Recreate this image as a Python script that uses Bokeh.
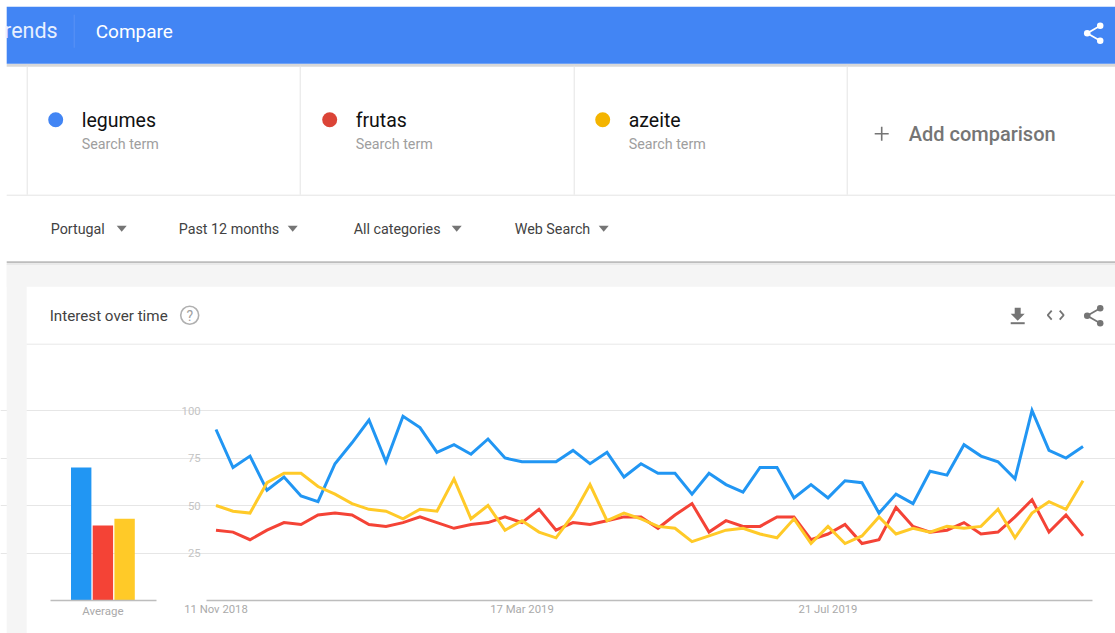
from bokeh.core.properties import value
from bokeh.embed import file_html
from bokeh.models import FixedTicker, Grid, LinearAxis, Range1d
from bokeh.plotting import figure
from bokeh.resources import INLINE

terms = ["legumes", "frutas", "azeite"]
average = [70, 39.5, 43]
legumes = [90, 70, 76, 58, 65, 55, 52, 72, 83, 95, 73, 97, 91, 78, 82, 77, 85, 75,
           73, 73, 73, 79, 72, 78, 65, 72, 67, 67, 56, 67, 61, 57, 70, 70, 54, 61,
           54, 63, 62, 46, 56, 51, 68, 66, 82, 76, 73, 64, 100, 79, 75, 81]
frutas = [37, 36, 32, 37, 41, 40, 45, 46, 45, 40, 39, 41, 44, 41, 38, 40, 41, 44,
          41, 48, 37, 41, 40, 42, 44, 44, 38, 45, 51, 36, 42, 39, 39, 44, 44, 32,
          35, 40, 30, 32, 49, 39, 36, 37, 41, 35, 36, 44, 53, 36, 45, 34]
azeite = [50, 47, 46, 62, 67, 67, 60, 56, 51, 48, 47, 43, 48, 47, 64, 43, 50, 37,
          42, 36, 33, 45, 61, 42, 46, 43, 39, 38, 31, 34, 37, 38, 35, 33, 43, 30,
          39, 30, 34, 44, 35, 38, 36, 39, 38, 39, 48, 33, 46, 52, 48, 63]
y_ticks = [25, 50, 75, 100]
date_ticks = {0: "11 Nov 2018", 18: "17 Mar 2019", 36: "21 Jul 2019"}
filters = ["Portugal", "Past 12 months", "All categories", "Web Search"]

LINE_COLORS = ["#2196f3", "#f44336", "#ffca28"]
DOT_COLORS = ["#4285f4", "#db4437", "#f4b400"]
W, H = 1115, 633
FONT = value("Roboto")

# Weekly index on x, interest on y; the frame spans the whole page.
x0, dx = 215.5, 17
base, dy = 600, 1.9
p = figure(
    width=W, height=H, output_backend="svg", toolbar_location=None,
    x_range=Range1d(-x0 / dx, (W - x0) / dx),
    y_range=Range1d((base - H) / dy, base / dy),
    x_axis_type=None, y_axis_type=None, min_border=0,
    outline_line_color=None, background_fill_color="white",
)
p.xgrid.visible = False
p.ygrid.visible = False

# Page furniture lives on a pixel-sized range, and the bars on their own x range.
bar_x0, bar_dx = 80.7, 21.7
p.extra_x_ranges = {
    "px": Range1d(0.8, W + 0.8),
    "avg": Range1d(-bar_x0 / bar_dx, (W - bar_x0) / bar_dx),
}
p.extra_y_ranges = {"px": Range1d(H + 0.8, 0.8)}
PX = dict(x_range_name="px", y_range_name="px")


def box(left, right, top, bottom, color):
    p.quad(left=left, right=right, top=top, bottom=bottom, fill_color=color,
           line_color=None, **PX)


def rule(xs, ys, color, width=1.0):
    p.line(xs, ys, line_color=color, line_width=width, **PX)


def label(x, y, text, size, color, weight="normal", align="left"):
    p.text([x], [y], text=[text], text_font=FONT, text_font_size=f"{size}px",
           text_color=color, text_font_style=value(weight), text_align=align,
           text_baseline="middle", **PX)


def share_icon(cx, cy, color):
    rule([cx + 6.5, cx - 6.5, cx + 6.5], [cy - 7.5, cy, cy + 7.5], color, 1.8)
    p.scatter([cx + 6.5, cx - 6.5, cx + 6.5], [cy - 7.5, cy, cy + 7.5], size=6.5,
              fill_color=color, line_color=None, **PX)


# Grey page behind the card
box(7, W + 1, 264, 287, "#f5f5f5")
box(7, 27, 264, H + 1, "#f5f5f5")
rule([7, W + 1], [262.5, 262.5], "#bdbdbd", 2)
rule([7, W + 1], [264.5, 264.5], "#e4e4e4", 1)

# Blue header bar
box(7, W + 1, 64, 67, "#d8d8d8")
box(7, W + 1, 7, 64, "#4285f4")
label(58, 30.5, "rends", 21.5, "#e8f0fe", align="right")
rule([74.5, 74.5], [15, 48], "#5b93f5", 1)
label(96, 31.5, "Compare", 19, "white")
share_icon(1094, 33.5, "white")

# Search term cards
for xv in [27.5, 300.5, 574.5, 847.5]:
    rule([xv, xv], [66, 195], "#e4e4e4", 1)
rule([7, W + 1], [195.5, 195.5], "#e4e4e4", 1)
for term, color, dot_x in zip(terms, DOT_COLORS, [56, 330, 603]):
    p.circle([dot_x], [120], radius=7.5, radius_units="screen", fill_color=color,
             line_color=None, **PX)
    label(dot_x + 26, 121, term, 19.5, "#111111")
    label(dot_x + 26, 144.5, "Search term", 14.3, "#9e9e9e")
rule([882, 882], [127, 141], "#757575", 1.6)
rule([875, 889], [134, 134], "#757575", 1.6)
label(909, 134.5, "Add comparison", 20, "#757575", weight="500")

# Filter row
for text, text_x, arrow_x in zip(filters, [51, 179, 354, 515], [122, 293, 457, 604]):
    label(text_x, 229.5, text, 14.3, "#424242")
    p.patch([arrow_x - 5, arrow_x + 5, arrow_x], [226, 226, 232], fill_color="#757575",
            line_color=None, **PX)

# Card heading and its icons
rule([27, W + 1], [344.5, 344.5], "#e8e8e8", 1)
label(50, 316.5, "Interest over time", 15.2, "#424242")
p.circle([190], [315.5], radius=9, radius_units="screen", fill_color=None,
         line_color="#b0b0b0", line_width=1.6, **PX)
label(190, 316, "?", 14, "#a0a0a0", align="center")
p.patch([1015, 1021, 1021, 1025, 1018, 1011, 1015], [308, 308, 314, 314, 321, 314, 314],
        fill_color="#757575", line_color=None, **PX)
rule([1011, 1025], [323.5, 323.5], "#757575", 2)
rule([1052, 1048, 1052], [311, 315.5, 320], "#757575", 1.8)
rule([1060, 1064, 1060], [311, 315.5, 320], "#757575", 1.8)
share_icon(1094, 316, "#757575")

# Interest scale, gridlines and date axis
y_axis = LinearAxis(fixed_location=-0.55, ticker=FixedTicker(ticks=y_ticks),
                    axis_line_color=None, major_tick_line_color=None,
                    minor_tick_line_color=None, major_label_standoff=0,
                    major_label_text_font="Roboto", major_label_text_font_size="11.3px",
                    major_label_text_color="#c4c4c4")
p.add_layout(y_axis, "left")
p.add_layout(Grid(dimension=1, ticker=FixedTicker(ticks=y_ticks), bounds=(-0.55, 51.53),
                  grid_line_color="#e6e6e6", grid_line_width=1))

x_axis = LinearAxis(fixed_location=0, ticker=FixedTicker(ticks=list(date_ticks)),
                    major_label_overrides=date_ticks, bounds=(-0.55, 51.53),
                    axis_line_color="#bdbdbd", axis_line_width=1.5,
                    major_tick_line_color=None, minor_tick_line_color=None,
                    major_label_standoff=-4, major_label_text_font="Roboto",
                    major_label_text_font_size="11.3px", major_label_text_color="#aaaaaa")
p.add_layout(x_axis, "below")

# Average bars with their own baseline
avg_axis = LinearAxis(x_range_name="avg", fixed_location=0,
                      ticker=FixedTicker(ticks=[1]), major_label_overrides={1: "Average"},
                      bounds=(-1.42, 3.46), axis_line_color="#bdbdbd", axis_line_width=1.5,
                      major_tick_line_color=None, minor_tick_line_color=None,
                      major_label_standoff=-3, major_label_text_font="Roboto",
                      major_label_text_font_size="11.5px", major_label_text_color="#aaaaaa")
p.add_layout(avg_axis, "below")
p.vbar(x=list(range(len(average))), top=average, bottom=0, width=0.94,
       fill_color=LINE_COLORS, line_color=None, x_range_name="avg")

# Weekly series
weeks = list(range(len(legumes)))
for series, color in zip([legumes, frutas, azeite], LINE_COLORS):
    p.line(weeks, series, line_color=color, line_width=3, line_join="miter")

open("out.html", "w").write(file_html(p, INLINE))
